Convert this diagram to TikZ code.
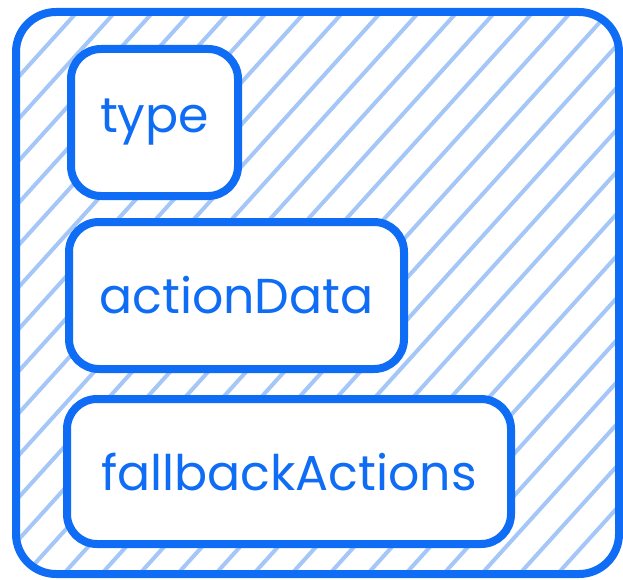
\documentclass[tikz,border=0pt]{standalone}
\usepackage{fontspec}
\setmainfont{Poppins}
\usepackage{xcolor}
\usetikzlibrary{positioning}

\definecolor{strokeblue}{HTML}{0F6CF5}
\definecolor{hatchblue}{HTML}{A4C7F7}

\tikzset{
    field/.style={draw=strokeblue, line width=8pt, fill=white, rounded corners=30pt,
        text=strokeblue, font=\fontsize{49}{52}\selectfont, inner sep=0pt},
    hatch/.style={hatchblue, line width=4pt}
}

\begin{document}
\begin{tikzpicture}[x=1pt, y=-1pt]
    \useasboundingbox (0,0) rectangle (623,580);

    % hatched container
    \begin{scope}
        \clip[rounded corners=40pt] (16,12) rectangle (619,574);
        \foreach \s in {-606,-568,...,700}
            \draw[hatch] (\s,600) -- (\s+560,-20);
    \end{scope}
    \draw[strokeblue, line width=8pt, rounded corners=40pt] (16,12) rectangle (619,574);

    % fields
    \node[field, minimum width=167pt, minimum height=147pt] (type) at (154.5,122.5) {type};
    \node[field, minimum width=335pt, minimum height=147pt] (actionData) at (236.5,295.5) {actionData};
    \node[field, minimum width=444pt, minimum height=145pt] (fallbackActions) at (289,471.5) {fallbackActions};

\end{tikzpicture}
\end{document}
